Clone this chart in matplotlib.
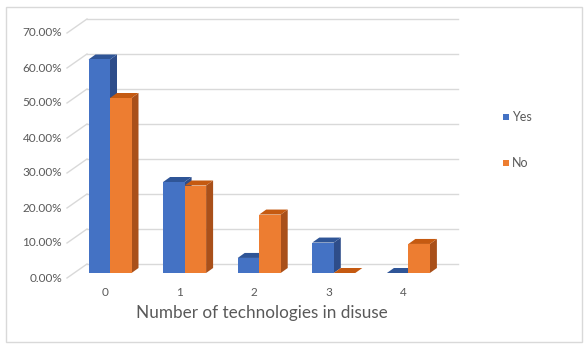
import matplotlib
matplotlib.use("Agg")
import matplotlib.pyplot as plt
from matplotlib.patches import Polygon, Rectangle

# data
categories = ["0", "1", "2", "3", "4"]
yes_vals = [61.0, 26.0, 4.3, 8.7, 0.0]
no_vals = [50.0, 25.0, 16.7, 0.0, 8.3]
yticks = [0, 10, 20, 30, 40, 50, 60, 70]
series = ["Yes", "No"]

front = {"Yes": "#4472C4", "No": "#ED7D31"}
top = {"Yes": "#2F5597", "No": "#C55A11"}
side = {"Yes": "#2E4D8A", "No": "#A9501A"}

plt.rcParams["font.family"] = ["Lato", "DejaVu Sans"]

W, H = 588, 348
fig = plt.figure(figsize=(W / 100, H / 100), dpi=100)

# chart border
fig.patches.append(Rectangle((6 / W, 6 / H), 576 / W, 335 / H, transform=fig.transFigure,
                             fill=False, edgecolor="#D9D9D9", lw=1))

# axes: x pixel = 105 + 74.6*x, y pixel = 273 - 3.5*y
px_l, px_r, py_t, py_b = 40, 480, 10, 300
ax = fig.add_axes([px_l / W, (H - py_b) / H, (px_r - px_l) / W, (py_b - py_t) / H])
ax.set_xlim((px_l - 105) / 74.6, (px_r - 105) / 74.6)
ax.set_ylim((273 - py_b) / 3.5, (273 - py_t) / 3.5)
ax.axis("off")

xs = 1 / 74.6   # data units per pixel (x)
ys = 1 / 3.5    # data units per pixel (y)

# back wall gridlines and slanted front ticks
back_x0 = (87 - 105) * xs
back_x1 = (458 - 105) * xs
front_x0 = (67 - 105) * xs
back_dy = 9 * ys
front_dy = -5 * ys
for g in yticks:
    ax.plot([back_x0, back_x1], [g + back_dy, g + back_dy], color="#D9D9D9", lw=1, zorder=1)
    ax.plot([front_x0, back_x0], [g + front_dy, g + back_dy], color="#D9D9D9", lw=1, zorder=1)
    ax.text(front_x0 - 5 * xs, g + front_dy, f"{g:.2f}%", ha="right", va="center",
            fontsize=8.5, color="#595959")

# 3D-looking bars
w = 21.5 * xs
shift = 5 * xs
dx, dy = 7 * xs, 5 * ys
for s, vals in zip(series, [yes_vals, no_vals]):
    for i, v in enumerate(vals):
        x0 = i + shift - w if s == "Yes" else i + shift
        z = 3 + i * 0.01 + (0 if s == "Yes" else 0.005)
        ax.bar(x0, v, w, align="edge", color=front[s], zorder=z + 0.002, lw=0)
        ax.add_patch(Polygon([(x0, v), (x0 + w, v), (x0 + w + dx, v + dy), (x0 + dx, v + dy)],
                             closed=True, color=top[s], lw=0, zorder=z + 0.001))
        ax.add_patch(Polygon([(x0 + w, 0), (x0 + w + dx, dy), (x0 + w + dx, v + dy), (x0 + w, v)],
                             closed=True, color=side[s], lw=0, zorder=z))

# category labels
for i, c in enumerate(categories):
    ax.text(i, (273 - 293) * ys, c, ha="center", va="center", fontsize=8.5, color="#595959")

fig.text(262 / W, 1 - 313 / H, "Number of technologies in disuse", ha="center", va="center",
         fontsize=12.3, color="#595959")

# legend
for s, yy in zip(series, [117, 163]):
    fig.patches.append(Rectangle((503 / W, 1 - (yy + 3) / H), 6 / W, 6 / H,
                                 transform=fig.transFigure, color=front[s], lw=0))
    fig.text(512 / W, 1 - yy / H, s, ha="left", va="center", fontsize=9, color="#595959")

fig.savefig("out.png", dpi=100)
